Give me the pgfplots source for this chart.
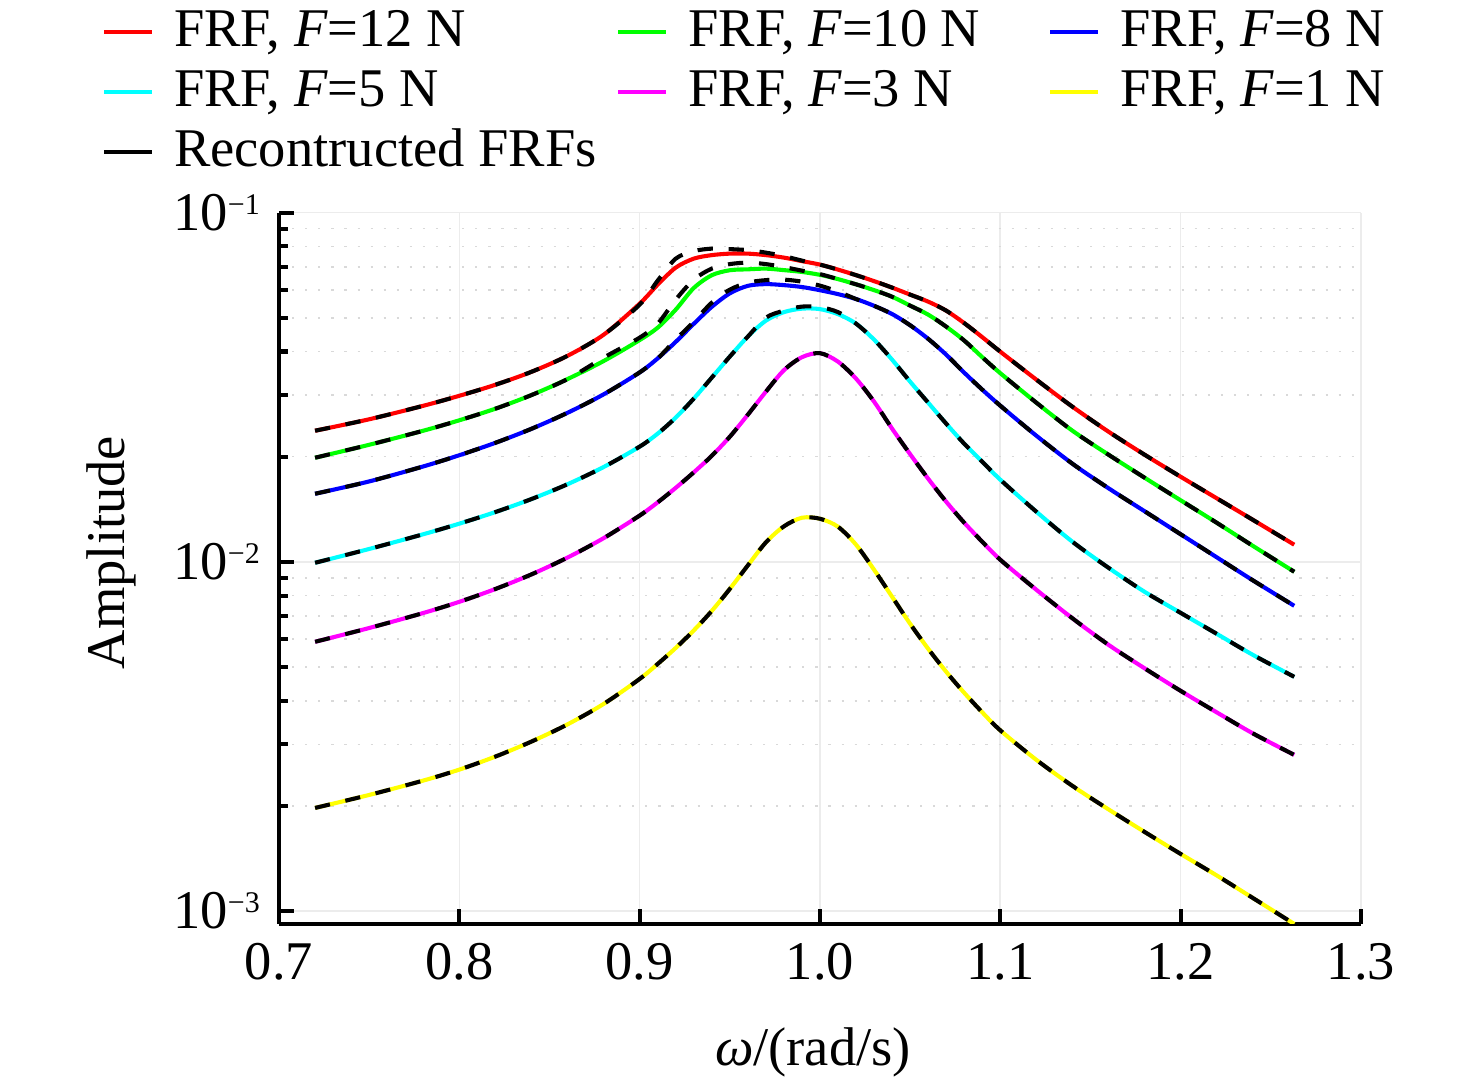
\documentclass[border=0pt]{standalone}
\usepackage{fontspec}
\setmainfont{Liberation Serif}
\usepackage{pgfplots}
\usepackage{pgfplotstable}
\pgfplotsset{compat=1.18}
\definecolor{cred}{RGB}{255,0,0}
\definecolor{cgreen}{RGB}{0,255,0}
\definecolor{cblue}{RGB}{0,0,255}
\definecolor{ccyan}{RGB}{0,255,255}
\definecolor{cmag}{RGB}{255,0,255}
\definecolor{cyel}{RGB}{255,255,0}
\newcommand{\tl}[1]{10\raisebox{3.0pt}{\fontsize{5.5}{6}\selectfont −#1}}
\newcommand{\LA}[1]{\makebox[84.8pt][l]{\hspace{3.7pt}#1}}
\newcommand{\LB}[1]{\makebox[69.7pt][l]{\hspace{3.7pt}#1}}
\newcommand{\LC}[1]{\hspace{3.7pt}#1}
\pgfplotstableread{
w r rd g gd b bd c cd m y
0.72 0.02373 0.02373 0.01986 0.01986 0.01566 0.01566 0.009934 0.009934 0.0059 0.001973
0.75 0.02559 0.02559 0.02163 0.02163 0.016986 0.016986 0.010881 0.010881 0.006461 0.002149
0.78 0.02797 0.02797 0.02373 0.02373 0.018752 0.018752 0.01199 0.01199 0.007133 0.0023624
0.80 0.02988 0.02988 0.02542 0.02542 0.02019 0.02019 0.012858 0.012858 0.00768 0.00254
0.82 0.03213 0.03213 0.02744 0.02744 0.021913 0.021913 0.013881 0.013881 0.008357 0.0027677
0.84 0.035 0.035 0.03002 0.03002 0.024032 0.024032 0.015124 0.015124 0.009202 0.0030556
0.86 0.0389 0.0389 0.03336 0.03336 0.026709 0.026709 0.016675 0.016675 0.010281 0.0034228
0.88 0.04468 0.04468 0.03757 0.03842 0.03016 0.03016 0.018679 0.018679 0.011685 0.003916
0.90 0.05486 0.0545 0.04315 0.04384 0.034867 0.034867 0.02137 0.02137 0.013564 0.0046182
0.91 0.06219 0.06386 0.04683 0.04808 0.03824 0.03824 0.023283 0.023283 0.014798 0.0050986
0.92 0.06957 0.07382 0.05273 0.05633 0.042638 0.04326 0.025876 0.025876 0.016284 0.0056663
0.93 0.07382 0.07757 0.06081 0.06427 0.048015 0.04872 0.029331 0.029331 0.018037 0.0063598
0.94 0.07555 0.07886 0.06617 0.06911 0.053714 0.05523 0.03369 0.03369 0.020112 0.0072329
0.95 0.0763 0.0786 0.06838 0.0712 0.058717 0.06017 0.038698 0.038698 0.02281 0.008363
0.96 0.0763 0.07808 0.06879 0.0719 0.061697 0.0630 0.044157 0.044157 0.02638 0.0097652
0.97 0.07555 0.0768 0.06911 0.0712 0.062393 0.06406 0.049039 0.05002 0.0307 0.011365
0.98 0.07431 0.07505 0.06843 0.0698 0.061982 0.06427 0.05187 0.05238 0.035376 0.012631
0.99 0.07262 0.07285 0.06762 0.0682 0.06121 0.06343 0.05308 0.0538 0.03854 0.01337
1.00 0.07096 0.07096 0.06634 0.06665 0.05993 0.06178 0.05291 0.05361 0.039575 0.013281
1.01 0.06866 0.06866 0.06449 0.06449 0.05841 0.05938 0.05119 0.05187 0.03742 0.012597
1.02 0.0662 0.0662 0.06231 0.06231 0.05655 0.05655 0.04808 0.04808 0.03345 0.01119
1.03 0.06364 0.06364 0.05997 0.05997 0.05407 0.05407 0.04326 0.04326 0.02874 0.0094859
1.04 0.06097 0.06097 0.05741 0.05741 0.05122 0.05122 0.03791 0.03791 0.02405 0.007938
1.05 0.05822 0.05822 0.05414 0.05414 0.04757 0.04757 0.03279 0.03279 0.020325 0.006643
1.06 0.05559 0.05559 0.05102 0.05102 0.04349 0.04349 0.02855 0.02855 0.01729 0.005633
1.07 0.05238 0.05238 0.04713 0.04713 0.03918 0.03918 0.02486 0.02486 0.014857 0.00484
1.08 0.04824 0.04824 0.0430 0.0430 0.0348 0.0348 0.02178 0.02178 0.012935 0.004213
1.09 0.04398 0.04398 0.03854 0.03854 0.03111 0.03111 0.019343 0.019343 0.01141 0.003705
1.10 0.03997 0.03997 0.03468 0.03468 0.02799 0.02799 0.01718 0.01718 0.010133 0.0032899
1.12 0.03323 0.03323 0.02855 0.02855 0.02296 0.02296 0.01391 0.01391 0.008313 0.002708
1.14 0.0278 0.0278 0.02373 0.02373 0.01909 0.01909 0.01141 0.01141 0.006888 0.002281
1.16 0.02358 0.02358 0.02026 0.02026 0.01624 0.01624 0.009612 0.009612 0.005783 0.001954
1.18 0.02026 0.02026 0.01741 0.01741 0.013955 0.013955 0.008204 0.008204 0.004953 0.001684
1.20 0.01752 0.01752 0.015 0.015 0.01199 0.01199 0.00714 0.00714 0.004269 0.0014565
1.22 0.0152 0.0152 0.012935 0.012935 0.010301 0.010301 0.006219 0.006219 0.003705 0.001264
1.24 0.01319 0.01319 0.01111 0.01111 0.008851 0.008851 0.005414 0.005414 0.003226 0.0010895
1.263 0.01119 0.01119 0.009362 0.009362 0.00748 0.00748 0.004683 0.004683 0.002799 0.0009179
}\frf
\begin{document}
\begin{tikzpicture}
\useasboundingbox (-51.19pt,-29.0pt) rectangle (219.6pt,169.5pt);
\begin{axis}[
  at={(0,0)}, anchor=south west,
  scale only axis, width=198.5pt, height=130.5pt,
  xmin=0.7, xmax=1.3, ymin=9.18e-4, ymax=0.1, ymode=log,
  axis x line*=bottom, axis y line*=left,
  axis line style={line width=0.75pt,-},
  tick align=inside,
  xtick={0.7,0.8,0.9,1.0,1.1,1.2,1.3},
  xticklabels={0.7,0.8,0.9,1.0,1.1,1.2,1.3},
  ytick={0.001,0.01,0.1},
  yticklabels={\tl{3},\tl{2},\tl{1}},
  minor ytick={0.002,0.003,0.004,0.005,0.006,0.007,0.008,0.009,0.02,0.03,0.04,0.05,0.06,0.07,0.08,0.09},
  major tick length=2.8pt, minor tick length=1.6pt,
  every tick/.style={black, line width=0.75pt},
  xmajorgrids, ymajorgrids, yminorgrids,
  major grid style={gray!15, line width=0.3pt},
  minor grid style={gray!30, dotted, line width=0.3pt},
  xlabel={\textit{ω}/(rad/s)}, ylabel={Amplitude},
  xlabel style={at={(axis description cs:0.4935,-0.1985)}, anchor=base},
  ylabel style={at={(axis description cs:-0.1426,0.5222)}, anchor=base},
  legend columns=3,
  legend cell align=left,
  legend style={draw=none, fill=none, inner sep=0pt, outer sep=0pt,
    at={(axis description cs:-0.1636,1.2904)}, anchor=north west,
    column sep=0pt, row sep=0pt,
    nodes={inner sep=0pt, outer sep=0pt, text height=7.5pt, text depth=3.5pt}},
  legend image code/.code={\draw[#1, line width=0.75pt, solid] (0pt,0.75pt) -- (8.8pt,0.75pt);},
]
\addplot[cred, line width=0.75pt, smooth] table[x=w,y=r] {\frf};
\addlegendentry{\LA{FRF, \textit{F}=12 N}}
\addplot[cgreen, line width=0.75pt, smooth] table[x=w,y=g] {\frf};
\addlegendentry{\LB{FRF, \textit{F}=10 N}}
\addplot[cblue, line width=0.75pt, smooth] table[x=w,y=b] {\frf};
\addlegendentry{\LC{FRF, \textit{F}=8 N}}
\addplot[ccyan, line width=0.75pt, smooth] table[x=w,y=c] {\frf};
\addlegendentry{\LA{FRF, \textit{F}=5 N}}
\addplot[cmag, line width=0.75pt, smooth] table[x=w,y=m] {\frf};
\addlegendentry{\LB{FRF, \textit{F}=3 N}}
\addplot[cyel, line width=0.75pt, smooth] table[x=w,y=y] {\frf};
\addlegendentry{\LC{FRF, \textit{F}=1 N}}
\addlegendimage{black}
\addlegendentry{\LA{Recontructed FRFs}}
\addplot[black, line width=0.75pt, dash pattern=on 2.8pt off 2.9pt, smooth, forget plot] table[x=w,y=rd] {\frf};
\addplot[black, line width=0.75pt, dash pattern=on 2.8pt off 2.9pt, smooth, forget plot] table[x=w,y=gd] {\frf};
\addplot[black, line width=0.75pt, dash pattern=on 2.8pt off 2.9pt, smooth, forget plot] table[x=w,y=bd] {\frf};
\addplot[black, line width=0.75pt, dash pattern=on 2.8pt off 2.9pt, smooth, forget plot] table[x=w,y=cd] {\frf};
\addplot[black, line width=0.75pt, dash pattern=on 2.8pt off 2.9pt, smooth, forget plot] table[x=w,y=m] {\frf};
\addplot[black, line width=0.75pt, dash pattern=on 2.8pt off 2.9pt, smooth, forget plot] table[x=w,y=y] {\frf};
\end{axis}
\end{tikzpicture}
\end{document}
